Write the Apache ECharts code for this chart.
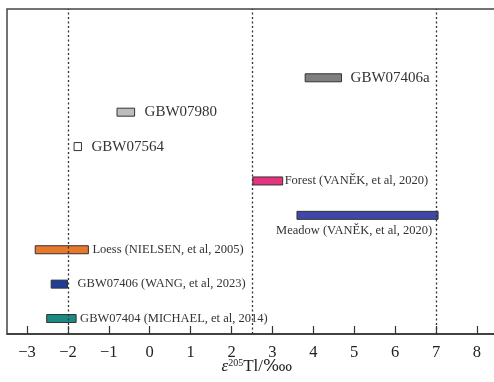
<!DOCTYPE html>
<html>
<head>
<meta charset="utf-8">
<script src="https://cdn.jsdelivr.net/npm/echarts@6/dist/echarts.min.js"></script>
<style>html,body{margin:0;padding:0;background:#fff;}#c{width:494px;height:382px;}</style>
</head>
<body>
<div id="c"></div>
<script>
// ---- data ----
const samples = [
  'GBW07404 (MICHAEL, et al, 2014)',
  'GBW07406 (WANG, et al, 2023)',
  'Loess (NIELSEN, et al, 2005)',
  'Meadow (VANĚK, et al, 2020)',
  'Forest (VANĚK, et al, 2020)',
  'GBW07564',
  'GBW07980',
  'GBW07406a'
];
const lowValues  = [-2.52, -2.41, -2.80, 3.60, 2.52, -1.85, -0.80, 3.80];
const highValues = [-1.80, -2.01, -1.50, 7.05, 3.25, -1.67, -0.37, 4.69];
const refLines = [-2, 2.5, 7];
const tickValues = [-3, -2, -1, 0, 1, 2, 3, 4, 5, 6, 7, 8];

// ---- styles ----
const barColors = ['#1b8a84', '#1f3e9a', '#e8782a', '#3f48a8', '#e6337f', '#ffffff', '#bdbdbd', '#7f7f7f'];
const labelPlace = ['right', 'right', 'right', 'below', 'right', 'right', 'right', 'right'];
const labelGap = [4, 10, 4, 6, 2, 10, 10, 9];
const labelSize = [12.5, 12.5, 12.5, 12.5, 12.5, 15, 15, 15];
const serif = '"Liberation Serif", "DejaVu Serif", serif';

const seriesData = samples.map((s, i) => [lowValues[i], highValues[i], i]);

const chart = echarts.init(document.getElementById('c'), null, {renderer: 'canvas'});
chart.setOption({
  animation: false,
  backgroundColor: '#fff',
  grid: {left: 7, top: 9, width: 500, bottom: 48, outerBoundsMode: 'none', containLabel: false,
    show: true, borderColor: '#444', borderWidth: 1.5, backgroundColor: 'transparent'},
  xAxis: {
    type: 'value', min: -3.49, max: 8.735,
    axisLine: {show: true, onZero: false, lineStyle: {color: '#333', width: 1.5}},
    axisTick: {show: true, inside: true, length: 8, customValues: tickValues, lineStyle: {color: '#333', width: 1.2}},
    axisLabel: {customValues: tickValues, margin: 10, fontFamily: serif, fontSize: 16.5, color: '#222',
      formatter: v => (v < 0 ? '\u2212' + Math.abs(v) : String(v))},
    splitLine: {show: false},
    name: '{e|ε}{s|205}{t|Tl/‱}',
    nameLocation: 'middle', nameGap: 24, nameMoveOverlap: false,
    nameTextStyle: {
      rich: {
        e: {fontFamily: serif, fontStyle: 'italic', fontSize: 17, color: '#222'},
        s: {fontFamily: serif, fontSize: 10, color: '#222', verticalAlign: 'top', padding: [0, 0, 8, 0]},
        t: {fontFamily: serif, fontSize: 17, color: '#222'}
      }
    }
  },
  yAxis: {
    type: 'value', min: -0.45, max: 9,
    axisLine: {show: false}, axisTick: {show: false}, axisLabel: {show: false}, splitLine: {show: false}
  },
  series: [
    {
      type: 'scatter', data: [], silent: true,
      markLine: {
        silent: true, symbol: ['none', 'none'], label: {show: false},
        lineStyle: {color: '#333', type: [2, 2.5], width: 1.3},
        data: refLines.map(v => ({xAxis: v}))
      }
    },
    {
      type: 'custom',
      data: seriesData,
      renderItem: function (params, api) {
        const i = api.value(2);
        const a = api.coord([api.value(0), i]);
        const b = api.coord([api.value(1), i]);
        const h = 8;
        const children = [{
          type: 'rect',
          shape: {x: a[0], y: a[1] - h / 2, width: b[0] - a[0], height: h},
          style: {fill: barColors[i], stroke: '#333', lineWidth: 1}
        }];
        const below = labelPlace[i] === 'below';
        children.push({
          type: 'text',
          style: {
            text: samples[i],
            x: below ? b[0] - labelGap[i] : b[0] + labelGap[i],
            y: below ? a[1] + 15 : a[1],
            align: below ? 'right' : 'left',
            verticalAlign: 'middle',
            fontFamily: serif,
            fontSize: labelSize[i],
            fill: '#333'
          }
        });
        return {type: 'group', children: children};
      }
    }
  ]
});
</script>
</body>
</html>
